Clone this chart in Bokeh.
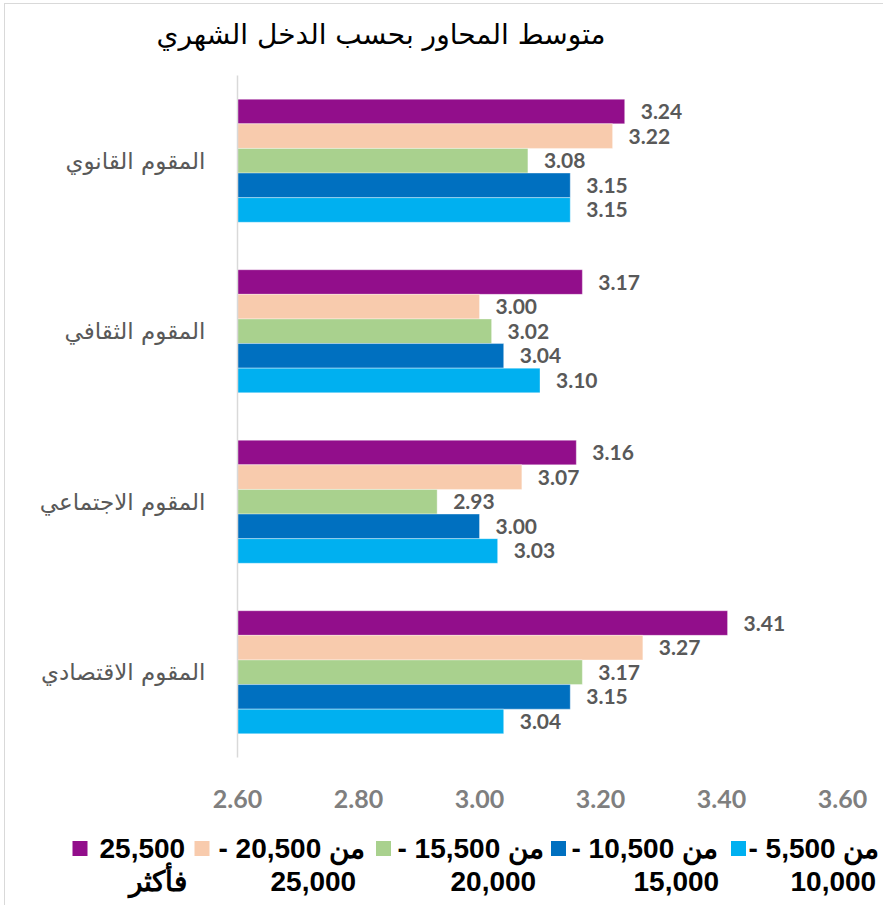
from bokeh.plotting import figure
from bokeh.models import FactorRange, Range1d, FixedTicker, NumeralTickFormatter, ColumnDataSource
from bokeh.transform import dodge
from bokeh.layouts import column
from bokeh.core.properties import value
from bokeh.embed import file_html
from bokeh.resources import INLINE

# ---------------- data ----------------
title_text = "متوسط المحاور  بحسب الدخل الشهري"
categories = ["المقوم القانوي", "المقوم الثقافي", "المقوم الاجتماعي", "المقوم الاقتصادي"]  # top -> bottom

series_names = ["25,500 فأكثر", "من 20,500 - 25,000", "من 15,500 - 20,000", "من 10,500 - 15,000", "من 5,500 - 10,000"]
series_colors = ["#920E8B", "#F8CBAD", "#A9D18E", "#0070C0", "#00B0F0"]

s_25500 = [3.24, 3.17, 3.16, 3.41]
s_20500 = [3.22, 3.00, 3.07, 3.27]
s_15500 = [3.08, 3.02, 2.93, 3.17]
s_10500 = [3.15, 3.04, 3.00, 3.15]
s_5500 = [3.15, 3.10, 3.03, 3.04]
series_values = [s_25500, s_20500, s_15500, s_10500, s_5500]

x_ticks = [2.6, 2.8, 3.0, 3.2, 3.4, 3.6]

# legend texts (two lines each, as displayed)
legend_line1 = ["25,500", "- 20,500 من", "- 15,500 من", "- 10,500 من", "- 5,500 من"]
legend_line2 = ["فأكثر", "25,000", "20,000", "15,000", "10,000"]

W = 878
n = len(series_names)

# ---------------- title ----------------
tf = figure(width=W, height=71, x_range=Range1d(0, W), y_range=Range1d(0, 71),
            output_backend="svg", toolbar_location=None, frame_align=False,
            min_border_left=0, min_border_right=0, min_border_top=0, min_border_bottom=0)
tf.axis.visible = False
tf.grid.visible = False
tf.outline_line_color = None
tf.text(x=[380], y=[41], text=[title_text], text_align="center", text_baseline="middle",
        text_font=value("DejaVu Sans"), text_font_size="28px", text_color="black")

# ---------------- main chart ----------------
x_start, x_end = x_ticks[0], x_ticks[-1]
p = figure(width=W, height=755,
           y_range=FactorRange(factors=list(reversed(categories)), range_padding=0),
           x_range=Range1d(x_start, x_end),
           output_backend="svg", toolbar_location=None, frame_align=False,
           min_border_left=232, min_border_right=41, min_border_top=0, min_border_bottom=73)
p.grid.visible = False
p.outline_line_color = None

bar_h = 0.1443
for i, (name, col, vals) in enumerate(zip(series_names, series_colors, series_values)):
    off = (n // 2 - i) * bar_h
    src = ColumnDataSource(dict(cat=categories, val=vals, lbl=["{:.2f}".format(v) for v in vals]))
    p.hbar(y=dodge("cat", off, range=p.y_range), left=x_start, right="val", height=bar_h,
           fill_color=col, line_color="white", line_width=0.6, line_alpha=0.6, source=src)
    p.text(x="val", y=dodge("cat", off, range=p.y_range), text="lbl", source=src,
           x_offset=16, text_align="left", text_baseline="middle",
           text_font=value("Lato"), text_font_style="bold", text_font_size="21px",
           text_color="#595959")

p.xaxis.ticker = FixedTicker(ticks=x_ticks)
p.xaxis.formatter = NumeralTickFormatter(format="0.00")
p.xaxis.axis_line_color = None
p.xaxis.major_tick_line_color = None
p.xaxis.minor_tick_line_color = None
p.xaxis.major_tick_out = 0
p.xaxis.major_tick_in = 0
p.xaxis.major_label_standoff = 32
p.xaxis.major_label_text_font = "Lato"
p.xaxis.major_label_text_font_style = "bold"
p.xaxis.major_label_text_font_size = "25px"
p.xaxis.major_label_text_color = "#7f7f7f"

p.yaxis.axis_line_color = "#d9d9d9"
p.yaxis.axis_line_width = 1.5
p.yaxis.major_tick_line_color = None
p.yaxis.minor_tick_line_color = None
p.yaxis.major_tick_out = 0
p.yaxis.major_tick_in = 0
p.yaxis.major_label_standoff = 32
p.yaxis.major_label_text_font = "DejaVu Sans"
p.yaxis.major_label_text_font_size = "23px"
p.yaxis.major_label_text_color = "#595959"

# ---------------- legend ----------------
lg = figure(width=W, height=75, x_range=Range1d(0, W), y_range=Range1d(0, 75),
            output_backend="svg", toolbar_location=None, frame_align=False,
            min_border_left=0, min_border_right=0, min_border_top=0, min_border_bottom=0)
lg.axis.visible = False
lg.grid.visible = False
lg.outline_line_color = None

sq_x = [74.5, 196.5, 378, 553, 733]
t1_x = [94, 213, 392, 566, 743]
t2_x = [123, 265, 445, 628, 785]
row1_y, row2_y = 57, 24
leg_src = ColumnDataSource(dict(sx=sq_x, sy=[row1_y] * n, col=series_colors,
                                t1x=t1_x, t1=legend_line1, t2x=t2_x, t2=legend_line2,
                                t2y=[row2_y] * n))
lg.rect(x="sx", y="sy", width=15, height=15, width_units="screen", height_units="screen",
        fill_color="col", line_color=None, source=leg_src)
lg.text(x="t1x", y="sy", text="t1", source=leg_src, text_align="left", text_baseline="middle",
        text_font=value("Liberation Sans"), text_font_style="bold", text_font_size="28px",
        text_color="black")
lg.text(x="t2x", y="t2y", text="t2", source=leg_src, text_align="left", text_baseline="middle",
        text_font=value("Liberation Sans"), text_font_style="bold", text_font_size="28px",
        text_color="black")

layout = column(tf, p, lg, spacing=0, margin=(3, 0, 0, 4),
                styles={"border-left": "1px solid #d9d9d9", "border-top": "1px solid #d9d9d9"})
open("out.html", "w").write(file_html(layout, INLINE))
